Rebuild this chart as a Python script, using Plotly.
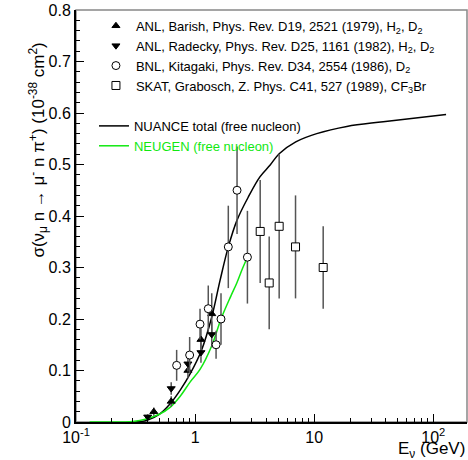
import plotly.graph_objects as go

# --- data ---
barish_E = [0.45, 0.63, 0.87, 1.12, 1.38]
barish_sig = [0.02, 0.04, 0.10, 0.16, 0.21]
barish_err = [0.008, 0.01, 0.015, 0.025, 0.04]

radecky_E = [0.40, 0.63, 0.87, 1.12, 1.38]
radecky_sig = [0.01, 0.065, 0.113, 0.135, 0.17]
radecky_err = [0.005, 0.012, 0.015, 0.02, 0.025]

kitagaki_E = [0.70, 0.90, 1.10, 1.29, 1.50, 1.65, 1.90, 2.25, 2.75]
kitagaki_sig = [0.11, 0.13, 0.19, 0.22, 0.15, 0.20, 0.34, 0.45, 0.32]
kitagaki_err = [0.03, 0.035, 0.03, 0.045, 0.027, 0.05, 0.08, 0.085, 0.09]

skat_E = [3.52, 4.19, 5.08, 6.97, 11.9]
skat_sig = [0.37, 0.27, 0.38, 0.34, 0.30]
skat_err = [0.10, 0.09, 0.14, 0.10, 0.08]

nuance_E = [0.30, 0.35, 0.39, 0.5, 0.62, 0.75, 0.91, 1.13, 1.38, 1.62, 1.9, 2.25, 2.8, 3.5, 4.27, 5.08, 7.0, 10.5, 18.8, 38, 128]
nuance_sig = [0.0, 0.001, 0.003, 0.015, 0.036, 0.062, 0.094, 0.139, 0.204, 0.275, 0.34, 0.392, 0.437, 0.476, 0.499, 0.521, 0.544, 0.56, 0.574, 0.583, 0.597]

neugen_E = [0.13, 0.25, 0.30, 0.39, 0.5, 0.62, 0.75, 0.91, 1.1, 1.38, 1.65, 2.0, 2.24, 2.5, 2.75]
neugen_sig = [0.0, 0.0, 0.001, 0.006, 0.015, 0.029, 0.05, 0.078, 0.102, 0.148, 0.2, 0.245, 0.27, 0.298, 0.32]

x_tickvals = [0.1, 1, 10, 100]
x_ticktext = ["10<sup>-1</sup>", "1", "10", "10<sup>2</sup>"]
y_tickvals = [0, 0.1, 0.2, 0.3, 0.4, 0.5, 0.6, 0.7, 0.8]
y_ticktext = ["0", "0.1", "0.2", "0.3", "0.4", "0.5", "0.6", "0.7", "0.8"]

FONT = "Liberation Sans, Arial, sans-serif"
ERRC = "#555555"
GREEN = "#11e811"

fig = go.Figure()

fig.add_trace(go.Scatter(x=nuance_E, y=nuance_sig, mode="lines", line=dict(color="black", width=1.5, shape="spline"),
                         name="NUANCE total (free nucleon)", legend="legend2"))
fig.add_trace(go.Scatter(x=neugen_E, y=neugen_sig, mode="lines", line=dict(color=GREEN, width=1.5, shape="spline"),
                         name='<span style="color:%s">NEUGEN (free nucleon)</span>' % GREEN, legend="legend2"))

def pts(xs, ys, es, sym, size, name, fill):
    fig.add_trace(go.Scatter(
        x=xs, y=ys, mode="markers", name=name, legend="legend",
        error_y=dict(type="data", array=es, color=ERRC, thickness=1.5, width=0),
        marker=dict(symbol=sym, size=size, color=fill, line=dict(color="black", width=1))))

pts(barish_E, barish_sig, barish_err, "triangle-up", 7, "ANL, Barish, Phys. Rev. D19, 2521 (1979), H<sub>2</sub>, D<sub>2</sub>", "black")
pts(radecky_E, radecky_sig, radecky_err, "triangle-down", 7, "ANL, Radecky, Phys. Rev. D25, 1161 (1982), H<sub>2</sub>, D<sub>2</sub>", "black")
pts(kitagaki_E, kitagaki_sig, kitagaki_err, "circle", 8, "BNL, Kitagaki, Phys. Rev. D34, 2554 (1986), D<sub>2</sub>", "white")
pts(skat_E, skat_sig, skat_err, "square", 8, "SKAT, Grabosch, Z. Phys. C41, 527 (1989), CF<sub>3</sub>Br", "white")

fig.update_layout(
    width=468, height=460,
    margin=dict(l=76, r=1, t=10, b=38),
    plot_bgcolor="white", paper_bgcolor="white",
    font=dict(family=FONT, size=16, color="black"),
    showlegend=True,
    legend=dict(x=0.051, y=0.998, xanchor="left", yanchor="top", bgcolor="rgba(0,0,0,0)",
                font=dict(size=13), itemwidth=30, tracegroupgap=0, traceorder="normal"),
    legend2=dict(x=0.046, y=0.755, xanchor="left", yanchor="top", bgcolor="rgba(0,0,0,0)",
                 font=dict(size=13), itemwidth=30, traceorder="normal"),
    xaxis=dict(type="log", range=[-1, 2.283], showgrid=False, zeroline=False,
               showline=True, linecolor="black", linewidth=2,
               ticks="inside", ticklen=8, tickwidth=1, tickcolor="black",
               tickvals=x_tickvals, ticktext=x_ticktext, tickfont=dict(size=16),
               minor=dict(ticks="inside", ticklen=4, tickcolor="black",
                          tickvals=[0.2, 0.3, 0.4, 0.5, 0.6, 0.7, 0.8, 0.9, 2, 3, 4, 5, 6, 7, 8, 9,
                                    20, 30, 40, 50, 60, 70, 80, 90, 200])),
    yaxis=dict(range=[0, 0.8], showgrid=False, zeroline=False,
               showline=True, linecolor="black", linewidth=2,
               ticks="inside", ticklen=8, tickwidth=1, tickcolor="black",
               tickvals=y_tickvals, ticktext=y_ticktext, tickfont=dict(size=16),
               minor=dict(ticks="inside", ticklen=4, tickcolor="black", dtick=0.02)),
)

# gray top/right frame
fig.add_shape(type="rect", xref="paper", yref="paper", x0=0, y0=0, x1=1, y1=1,
              line=dict(color="#888888", width=1.5), layer="below")

fig.add_annotation(text="σ(ν<sub>μ</sub> n → μ<sup>-</sup> n π<sup>+</sup>) (10<sup>-38</sup> cm<sup>2</sup>)",
                   xref="paper", yref="paper", x=-0.097, y=0.659, textangle=-90,
                   xanchor="center", yanchor="middle", showarrow=False, font=dict(size=17))
fig.add_annotation(text="E<sub>ν</sub> (GeV)", xref="paper", yref="paper", x=1.0, y=-0.068,
                   xanchor="right", yanchor="middle", showarrow=False, font=dict(size=17))

fig.write_html("out.html")
